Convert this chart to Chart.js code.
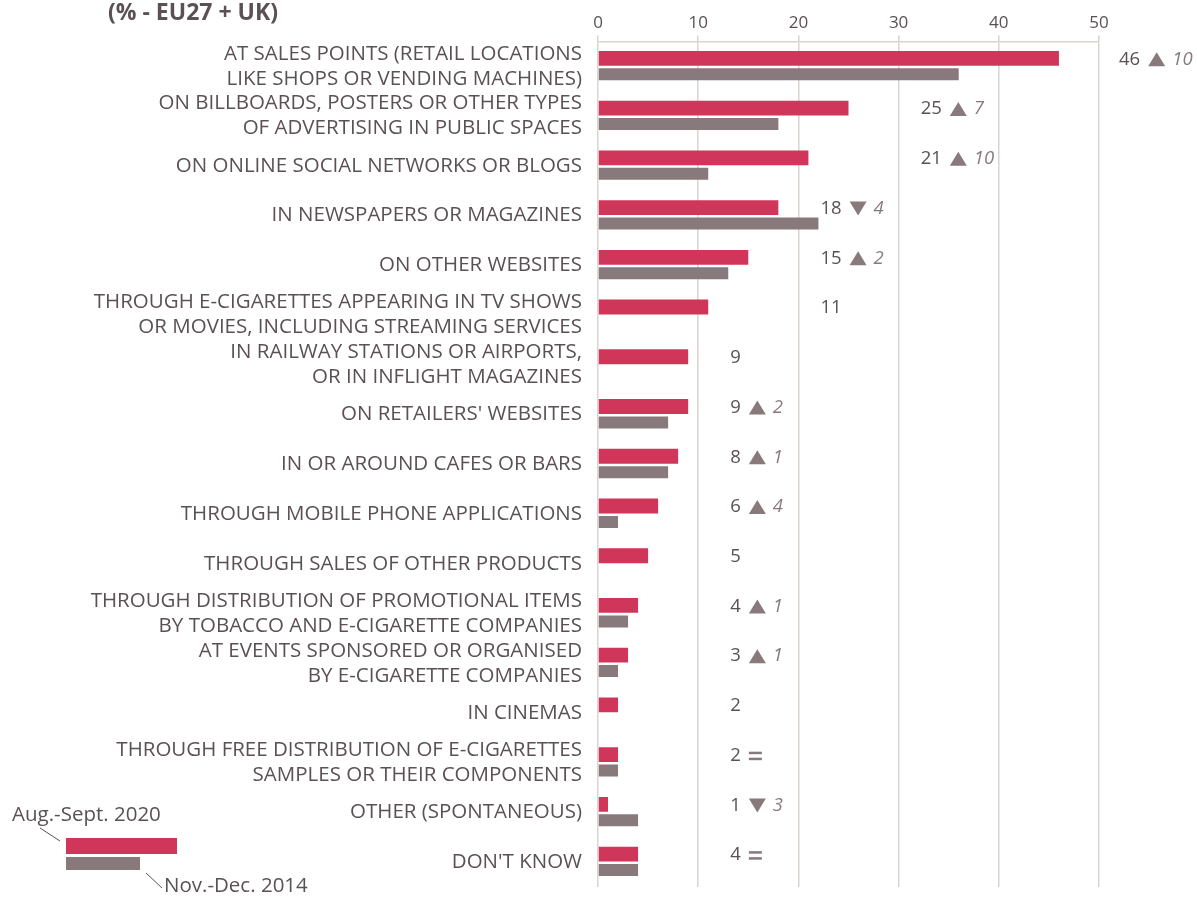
<!DOCTYPE html>
<html>
<head>
<meta charset="utf-8">
<script src="https://cdn.jsdelivr.net/npm/chart.js@4"></script>
<style>
  html, body { margin: 0; padding: 0; background: #fff; }
  #wrap { width: 1197px; height: 897px; }
</style>
</head>
<body>
<div id="wrap"><canvas id="adChart"></canvas></div>
<script>
// categories (multi-line labels as shown in the chart)
const categories = [
    ['AT SALES POINTS (RETAIL LOCATIONS', 'LIKE SHOPS OR VENDING MACHINES)'],
    ['ON BILLBOARDS, POSTERS OR OTHER TYPES', 'OF ADVERTISING IN PUBLIC SPACES'],
    'ON ONLINE SOCIAL NETWORKS OR BLOGS',
    'IN NEWSPAPERS OR MAGAZINES',
    'ON OTHER WEBSITES',
    ['THROUGH E-CIGARETTES APPEARING IN TV SHOWS', 'OR MOVIES, INCLUDING STREAMING SERVICES'],
    ['IN RAILWAY STATIONS OR AIRPORTS,', 'OR IN INFLIGHT MAGAZINES'],
    "ON RETAILERS' WEBSITES",
    'IN OR AROUND CAFES OR BARS',
    'THROUGH MOBILE PHONE APPLICATIONS',
    'THROUGH SALES OF OTHER PRODUCTS',
    ['THROUGH DISTRIBUTION OF PROMOTIONAL ITEMS', 'BY TOBACCO AND E-CIGARETTE COMPANIES'],
    ['AT EVENTS SPONSORED OR ORGANISED', 'BY E-CIGARETTE COMPANIES'],
    'IN CINEMAS',
    ['THROUGH FREE DISTRIBUTION OF E-CIGARETTES', 'SAMPLES OR THEIR COMPONENTS'],
    'OTHER (SPONTANEOUS)',
    "DON'T KNOW"
];

const values2020 = [46, 25, 21, 18, 15, 11, 9, 9, 8, 6, 5, 4, 3, 2, 2, 1, 4];
const values2014 = [36, 18, 11, 22, 13, null, null, 7, 7, 2, null, 3, 2, null, 2, 4, 4];
// change vs 2014 (null = not asked in 2014, 0 = unchanged)
const changes = [10, 7, 10, -4, 2, null, null, 2, 1, 4, null, 1, 1, null, 0, -3, 0];

const xTicks = [0, 10, 20, 30, 40, 50];
const seriesNames = ['Aug.-Sept. 2020', 'Nov.-Dec. 2014'];

const RED = '#d0365a';
const GREY = '#88797d';
const TEXT = '#5b5154';
const GRID = '#dbd4cf';
const FONT = '"Open Sans", "Noto Sans", sans-serif';

// the value labels sit in a few columns to the right of the bars
function labelColumn(v) {
    if (v < 10) return 13.2;
    if (v < 20) return 22.2;
    if (v < 30) return 32.2;
    return 52;
}

const valueLabels = {
    id: 'valueLabels',
    afterDatasetsDraw(chart) {
        const ctx = chart.ctx;
        const x = chart.scales.x;
        const bars = chart.getDatasetMeta(0).data;
        ctx.save();
        ctx.textBaseline = 'middle';
        values2020.forEach((v, i) => {
            const y = bars[i].y + 1;
            let px = x.getPixelForValue(labelColumn(v));
            ctx.font = '18.5px ' + FONT;
            ctx.fillStyle = TEXT;
            ctx.textAlign = 'left';
            const txt = String(v);
            ctx.fillText(txt, px, y);
            px += ctx.measureText(txt).width + 8;
            const c = changes[i];
            if (c === null) return;
            ctx.fillStyle = GREY;
            if (c === 0) {
                ctx.fillRect(px, y - 4, 13, 2.5);
                ctx.fillRect(px, y + 2, 13, 2.5);
                return;
            }
            ctx.beginPath();
            if (c > 0) {
                ctx.moveTo(px, y + 7);
                ctx.lineTo(px + 17, y + 7);
                ctx.lineTo(px + 8.5, y - 7);
            } else {
                ctx.moveTo(px, y - 7);
                ctx.lineTo(px + 17, y - 7);
                ctx.lineTo(px + 8.5, y + 7);
            }
            ctx.closePath();
            ctx.fill();
            ctx.font = 'italic 18.5px ' + FONT;
            ctx.fillText(String(Math.abs(c)), px + 24, y);
        });
        ctx.restore();
    }
};

// title and the small legend in the lower-left corner
const extras = {
    id: 'extras',
    afterDraw(chart) {
        const ctx = chart.ctx;
        ctx.save();
        ctx.fillStyle = TEXT;
        ctx.font = 'bold 23px ' + FONT;
        ctx.textAlign = 'left';
        ctx.textBaseline = 'middle';
        ctx.fillText('(% - EU27 + UK)', 108, 13);

        ctx.fillStyle = RED;
        ctx.fillRect(66, 838, 111, 16);
        ctx.fillStyle = GREY;
        ctx.fillRect(66, 857, 74, 13);

        ctx.strokeStyle = TEXT;
        ctx.lineWidth = 1;
        ctx.beginPath();
        ctx.moveTo(40, 828); ctx.lineTo(60, 841);
        ctx.moveTo(146, 873); ctx.lineTo(162, 888);
        ctx.stroke();

        ctx.fillStyle = TEXT;
        ctx.font = '20.5px ' + FONT;
        ctx.fillText(seriesNames[0], 12, 815);
        ctx.fillText(seriesNames[1], 164, 886);
        ctx.restore();
    }
};

new Chart(document.getElementById('adChart'), {
    type: 'bar',
    data: {
        labels: categories,
        datasets: [{
            label: seriesNames[0],
            data: values2020,
            backgroundColor: RED,
            categoryPercentage: 0.64,
            barPercentage: 0.93
        }, {
            label: seriesNames[1],
            data: values2014,
            backgroundColor: GREY,
            categoryPercentage: 0.64,
            barPercentage: 0.93,
            maxBarThickness: 12
        }]
    },
    options: {
        indexAxis: 'y',
        responsive: true,
        maintainAspectRatio: false,
        animation: false,
        layout: { padding: { top: 11, right: 98, bottom: 10, left: 0 } },
        scales: {
            x: {
                position: 'top',
                min: 0,
                max: 50,
                afterBuildTicks: (scale) => {
                    scale.ticks = xTicks.map(v => ({ value: v }));
                },
                grid: { color: GRID, lineWidth: 1.5, tickLength: 6, tickColor: GRID },
                border: { display: true, color: GRID, width: 1.5 },
                ticks: { color: TEXT, font: { family: FONT, size: 17 }, padding: 2 }
            },
            y: {
                afterFit: (scale) => {
                    scale.width = 598;
                    scale.paddingTop = 0;
                    scale.paddingBottom = 0;
                },
                grid: { display: false, drawTicks: false },
                border: { display: false },
                ticks: {
                    color: TEXT,
                    font: { family: FONT, size: 20.5, lineHeight: 1.22 },
                    padding: 16,
                    autoSkip: false
                }
            }
        },
        plugins: {
            legend: { display: false },
            tooltip: { enabled: false }
        }
    },
    plugins: [valueLabels, extras]
});
</script>
</body>
</html>
